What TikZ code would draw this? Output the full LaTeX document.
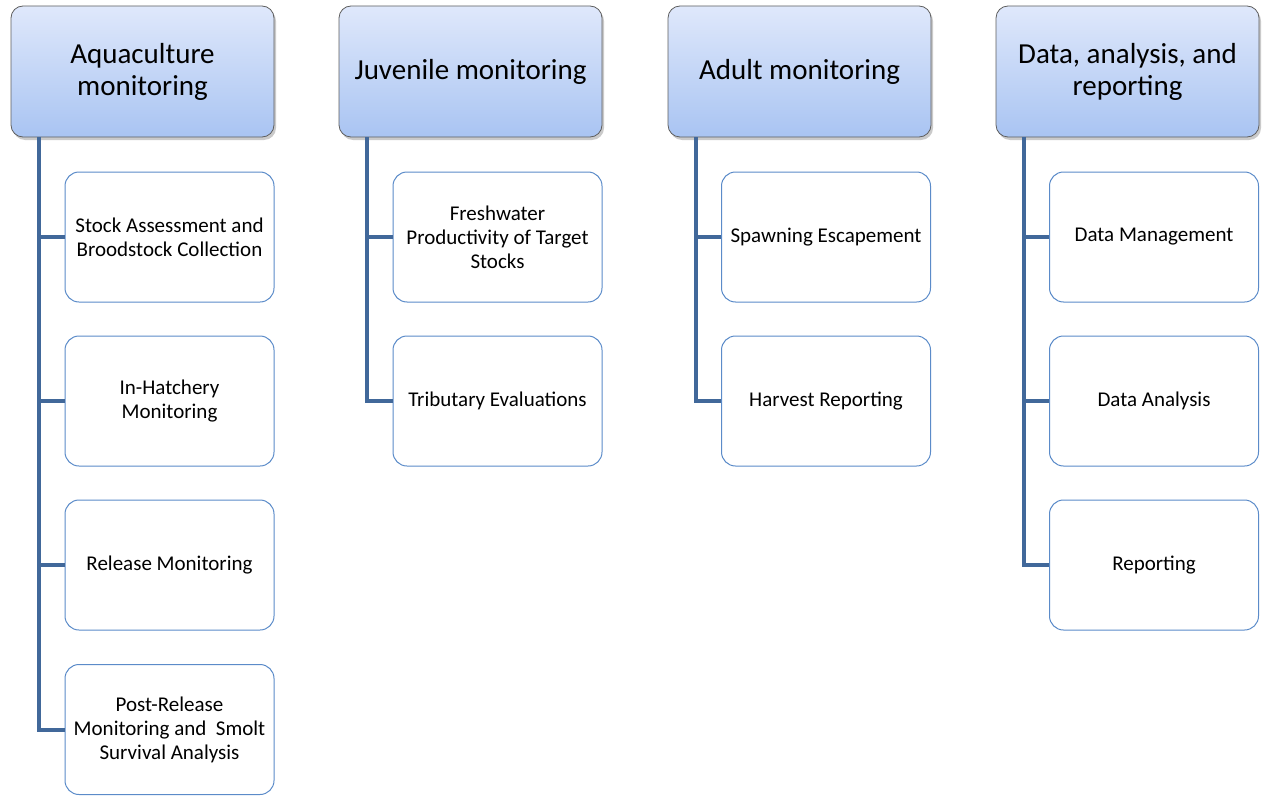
\documentclass[tikz,border=0pt]{standalone}
\usepackage{fontspec}
\setmainfont{Carlito}
\usetikzlibrary{shadows}

\definecolor{headtop}{HTML}{DFE8FB}
\definecolor{headbot}{HTML}{A9C4F2}
\definecolor{headline}{HTML}{5E5E5E}
\definecolor{boxline}{HTML}{5B8BC9}
\definecolor{linkblue}{HTML}{41689A}

\tikzset{
  head/.style={draw=headline, line width=0.8pt, rounded corners=12pt,
    top color=headtop, bottom color=headbot,
    minimum width=263pt, minimum height=131pt, align=center,
    font=\fontsize{29}{32}\selectfont,
    drop shadow={shadow xshift=2pt, shadow yshift=-3pt, opacity=0.35, fill=black!60}},
  item/.style={draw=boxline, line width=1pt, rounded corners=14pt, fill=white,
    minimum width=209pt, minimum height=130pt, align=center,
    font=\fontsize{21}{24}\selectfont},
  link/.style={draw=linkblue, line width=4pt}
}

\begin{document}
\begin{tikzpicture}[x=1pt, y=-1pt]
  \useasboundingbox (0,0) rectangle (1265,797);

  % column heads
  \node[head] (aqua) at (142.5,71.5) {Aquaculture\\monitoring};
  \node[head] (juv) at (470.5,71.5) {Juvenile monitoring};
  \node[head] (adult) at (799.5,71.5) {Adult monitoring};
  \node[head] (data) at (1127.5,71.5) {Data, analysis, and\\reporting};

  % aquaculture
  \node[item] (aqua1) at (169.5,237) {Stock Assessment and\\Broodstock Collection};
  \node[item] (aqua2) at (169.5,401) {In-Hatchery\\Monitoring};
  \node[item] (aqua3) at (169.5,565) {Release Monitoring};
  \node[item] (aqua4) at (169.5,729.5) {Post-Release\\Monitoring and \ Smolt\\Survival Analysis};

  % juvenile
  \node[item] (juv1) at (497.5,237) {Freshwater\\Productivity of Target\\Stocks};
  \node[item] (juv2) at (497.5,401) {Tributary Evaluations};

  % adult
  \node[item] (adult1) at (826,237) {Spawning Escapement};
  \node[item] (adult2) at (826,401) {Harvest Reporting};

  % data
  \node[item] (data1) at (1154,237) {Data Management};
  \node[item] (data2) at (1154,401) {Data Analysis};
  \node[item] (data3) at (1154,565) {Reporting};

  \foreach \h/\c in {aqua/aqua1, aqua/aqua2, aqua/aqua3, aqua/aqua4,
                     juv/juv1, juv/juv2, adult/adult1, adult/adult2,
                     data/data1, data/data2, data/data3}
    \draw[link] ([xshift=28pt]\h.south west) |- (\c.west);
\end{tikzpicture}
\end{document}
